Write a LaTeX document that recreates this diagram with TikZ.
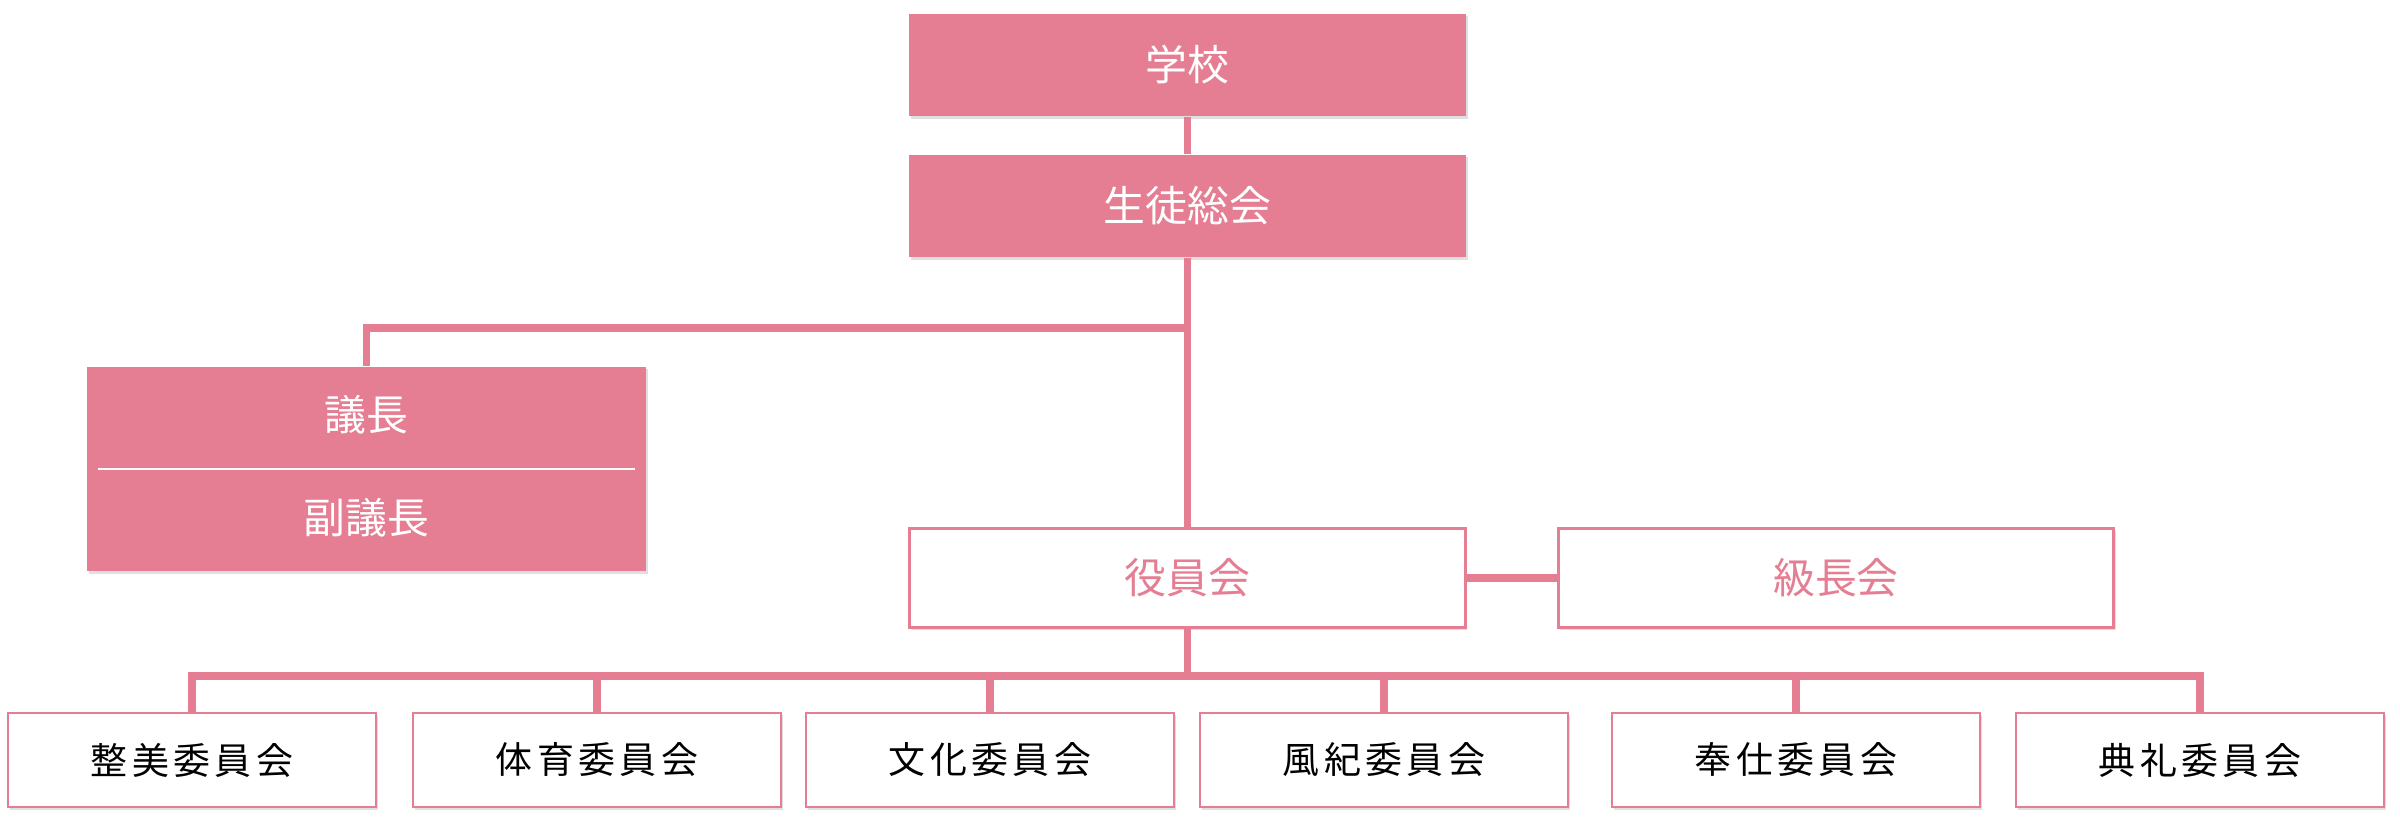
\documentclass[tikz,border=0pt]{standalone}
\usepackage{fontspec}
\newfontfamily\jp{Noto Sans CJK JP}
\usetikzlibrary{shadows}
\definecolor{pk}{RGB}{229,126,147}
\begin{document}
\begin{tikzpicture}[x=0.01cm,y=-0.01cm,
  conn/.style={draw=pk,line width=0.075cm},
  softshadow/.style={drop shadow={shadow xshift=0.02cm,shadow yshift=-0.025cm,opacity=0.12,fill=black}},
  filledbox/.style={rectangle, fill=pk, draw=none, minimum width=5.57cm, minimum height=1.02cm, inner sep=0pt, text=white, font=\jp\fontsize{11.9}{14}\selectfont, softshadow},
  outlinedbox/.style={rectangle, fill=white, draw=pk, line width=0.03cm, minimum width=5.55cm, minimum height=0.99cm, inner sep=0pt, text=pk, font=\jp\fontsize{11.9}{14}\selectfont, softshadow},
  committee/.style={rectangle, fill=white, draw=pk, line width=0.02cm, minimum width=3.67cm, minimum height=0.94cm, inner sep=0pt, font=\jp\fontsize{10.5}{12}\selectfont\addfontfeature{LetterSpace=12}, softshadow},
  plain/.style={inner sep=0pt, text=white, font=\jp\fontsize{11.9}{14}\selectfont},
]
\useasboundingbox (0,0) rectangle (2400,840);
\fill[white] (0,0) rectangle (2400,840);

% coordinates for junctions
\coordinate (j1) at (1187.5,328);
\coordinate (bus) at (1187.5,676);

% nodes
\node[filledbox] (school) at (1187.5,65) {学校};
\node[filledbox] (seito) at (1187.5,206) {生徒総会};
\node[filledbox, minimum width=5.59cm, minimum height=2.04cm] (giin) at (366.5,469) {};
\node[plain] (gicho) at (366.5,415) {議長};
\node[plain] (fukugicho) at (366.5,518) {副議長};
\node[outlinedbox] (yakuin) at (1187.5,578) {役員会};
\node[outlinedbox] (kyucho) at (1836,578) {級長会};

\node[committee] (c1) at (192,760) {整美委員会};
\node[committee] (c2) at (597,760) {体育委員会};
\node[committee] (c3) at (990,760) {文化委員会};
\node[committee] (c4) at (1384,760) {風紀委員会};
\node[committee] (c5) at (1796,760) {奉仕委員会};
\node[committee] (c6) at (2200,760) {典礼委員会};

% divider in giin box
\draw[white, line width=0.015cm] ([xshift=0.12cm]giin.west) -- ([xshift=-0.12cm]giin.east);

% connectors
\draw[conn] (school.south) -- (seito.north);
\draw[conn] (seito.south) -- (yakuin.north);
\draw[conn] (j1) -| (giin.north);
\draw[conn] (yakuin.east) -- (kyucho.west);
\draw[conn] (yakuin.south) -- (yakuin.south |- bus);
\draw[conn] (c1.north) -- (c1.north |- bus) -- (c6.north |- bus) -- (c6.north);
\draw[conn] (c2.north) -- (c2.north |- bus);
\draw[conn] (c3.north) -- (c3.north |- bus);
\draw[conn] (c4.north) -- (c4.north |- bus);
\draw[conn] (c5.north) -- (c5.north |- bus);
\end{tikzpicture}
\end{document}
